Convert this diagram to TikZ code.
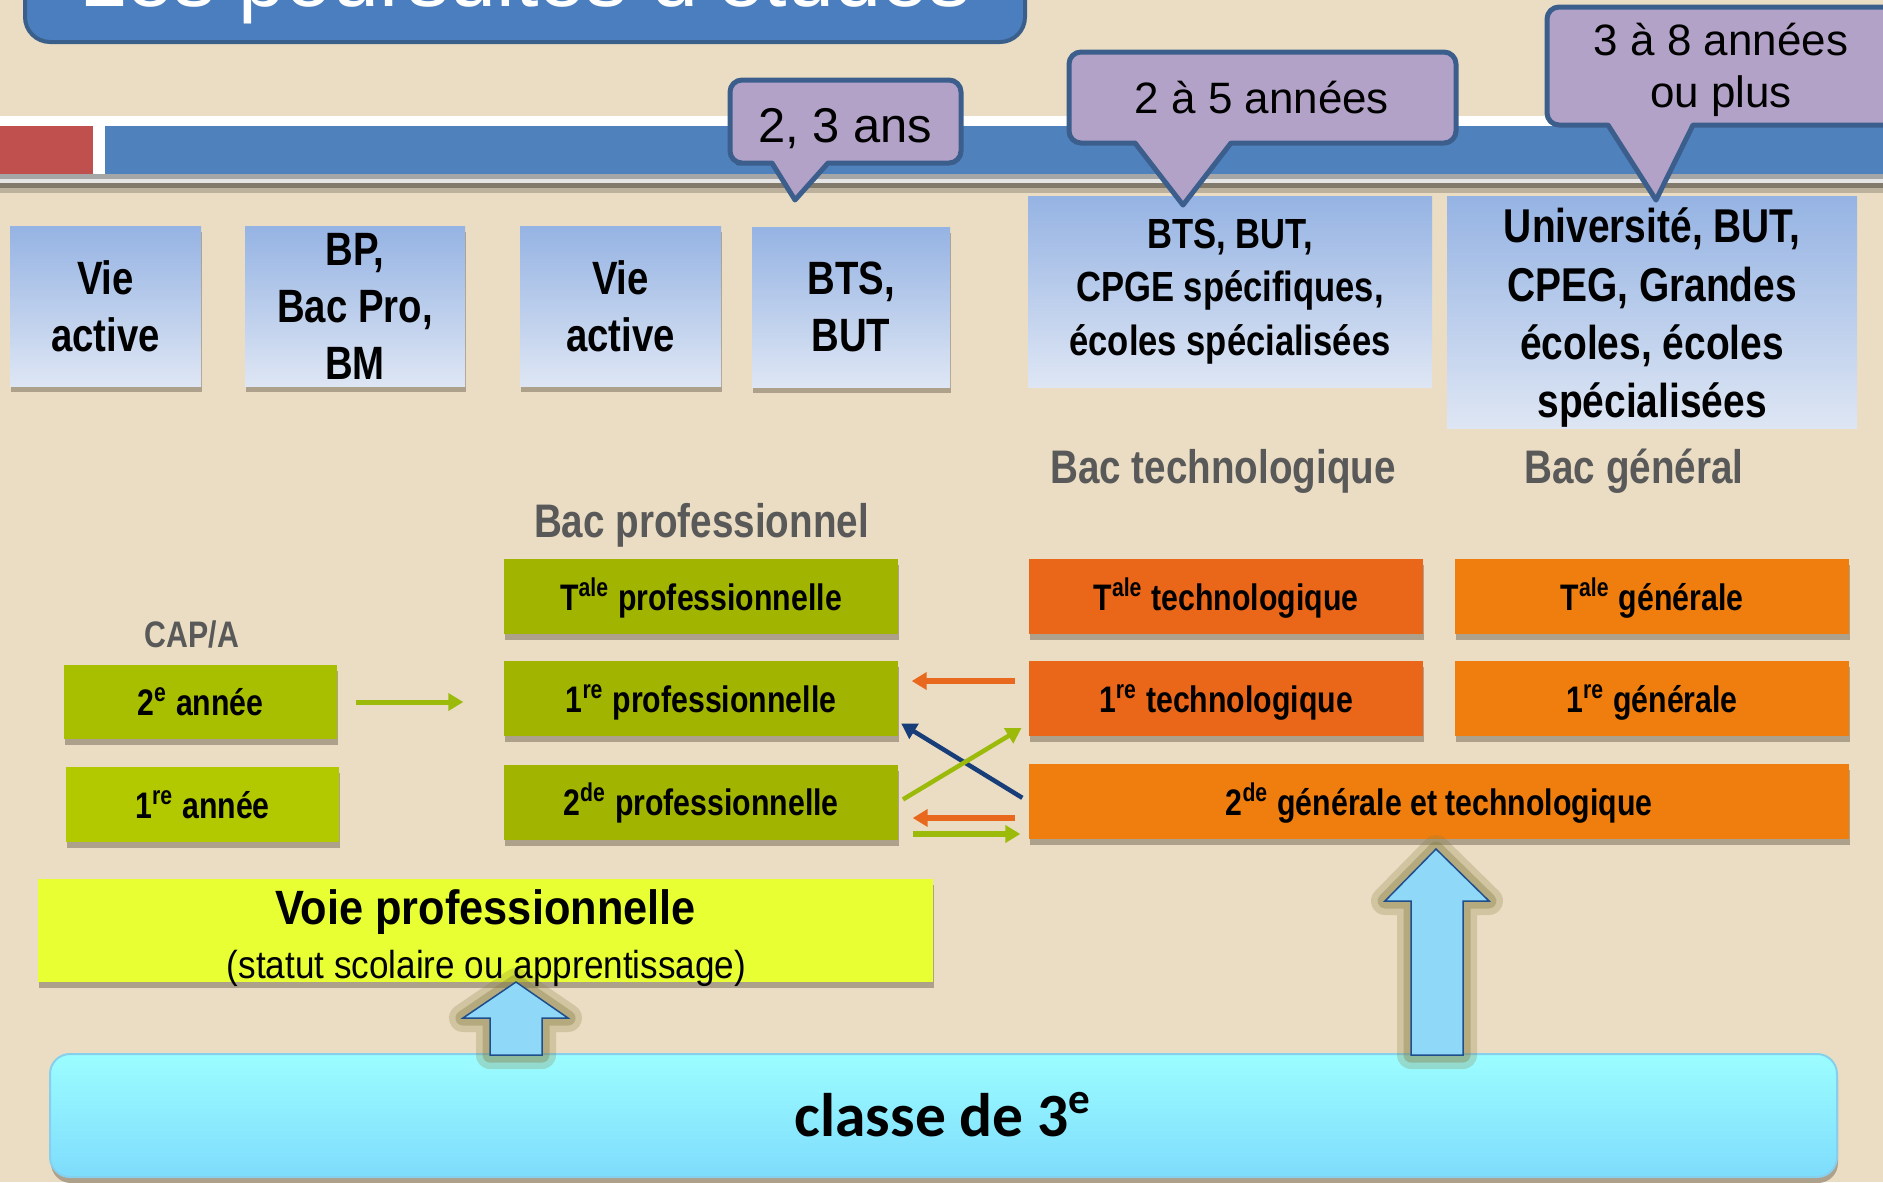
\documentclass[tikz,border=0pt]{standalone}
\usepackage{fontspec}
\setmainfont{Liberation Sans}
\newfontfamily\narrowfont{Liberation Sans}[FakeStretch=0.82]
\newfontfamily\semifont{Liberation Sans}[FakeStretch=0.9]
\newfontfamily\calfont{Carlito}
\usetikzlibrary{arrows.meta,shadows}

\definecolor{fondc}{HTML}{EADDC3}
\definecolor{titrec}{HTML}{4A7EBF}
\definecolor{titrebord}{HTML}{3A5F8B}
\definecolor{barrebleu}{HTML}{4F81BD}
\definecolor{barrerouge}{HTML}{C0504D}
\definecolor{bulle}{HTML}{B3A2C7}
\definecolor{bullebord}{HTML}{3B5E8C}
\definecolor{bleuhaut}{HTML}{95B3E3}
\definecolor{bleubas}{HTML}{DEE6F4}
\definecolor{vertpro}{HTML}{A0B400}
\definecolor{vertcap}{HTML}{A8BF00}
\definecolor{vertcapun}{HTML}{B2C900}
\definecolor{orangetech}{HTML}{EA6619}
\definecolor{orangegen}{HTML}{EF7E0E}
\definecolor{jaune}{HTML}{E8FF33}
\definecolor{cyanhaut}{HTML}{9CFDFF}
\definecolor{cyanbas}{HTML}{7EDCFC}
\definecolor{cyanbord}{HTML}{86D0EE}
\definecolor{flechebleu}{HTML}{90D8F8}
\definecolor{flechebord}{HTML}{1F4E8C}
\definecolor{halo}{HTML}{857B3E}
\definecolor{ombre}{HTML}{ADA18B}
\definecolor{grislabel}{HTML}{595959}
\definecolor{fvert}{HTML}{9BBA0A}
\definecolor{forange}{HTML}{E8681E}
\definecolor{fmarine}{HTML}{173E78}

\tikzset{
  ombrebas/.style={drop shadow={shadow xshift=0.1mm, shadow yshift=-0.6mm, fill=ombre, opacity=1}},
  sortie/.style={top color=bleuhaut, bottom color=bleubas, inner sep=0pt, align=center,
    font=\narrowfont\bfseries\fontsize{13.3}{16.2}\selectfont},
  classebox/.style={inner sep=0pt, minimum height=7.5mm, minimum width=39.4mm,
    text height=2.7mm, text depth=0mm, font=\narrowfont\bfseries\fontsize{10.5}{12}\selectfont, ombrebas},
  titrebac/.style={text=grislabel, anchor=base, font=\narrowfont\bfseries\fontsize{13.4}{16}\selectfont},
  bullebox/.style={fill=bulle, draw=bullebord, line width=0.5mm, line join=round},
  fleche/.style={line width=0.6mm, -{Triangle[length=1.5mm,width=1.7mm]}},
  grossefleche/.style={fill=flechebleu, draw=flechebord, line width=0.15mm, line join=miter,
    preaction={draw=halo, opacity=0.25, line width=2.8mm, line join=round},
    preaction={draw=halo, opacity=0.35, line width=1.5mm, line join=round}},
}

\begin{document}
\begin{tikzpicture}[x=0.1mm,y=-0.1mm]
    \useasboundingbox (0,0) rectangle (1883,1182);
    \fill[fondc] (0,0) rectangle (1883,1182); % 背景

    % 标题（上方被裁掉）
    \begin{scope}
        \clip (0,0) rectangle (1883,1182);
        \draw[fill=titrec, draw=titrebord, line width=0.4mm, rounded corners=2.5mm] (25,-90) rectangle (1025,42);
        \node[text=white, anchor=base, font=\fontsize{24}{28}\selectfont] (titre) at (525,6) {Les poursuites d'études};
    \end{scope}

    % 横条
    \fill[white] (0,116) rectangle (1883,126);
    \fill[barrerouge] (0,126) rectangle (93,174);
    \fill[white] (93,126) rectangle (105,174);
    \fill[barrebleu] (105,126) rectangle (1883,174);
    \fill[black!35] (0,174) rectangle (1883,179);
    \fill[white!90!black] (0,179) rectangle (1883,183);
    \fill[fondc!55!black] (0,183) rectangle (1883,188);
    \fill[fondc!80!black] (0,188) rectangle (1883,193);

    % 出路
    \node[sortie, ombrebas, minimum width=19.1mm, minimum height=16mm] (vieA) at (105.5,306) {Vie\\active};
    \node[sortie, ombrebas, minimum width=22mm, minimum height=16mm] (bpbm) at (355,306) {BP,\\Bac Pro,\\BM};
    \node[sortie, ombrebas, minimum width=20.1mm, minimum height=16mm] (vieB) at (620.5,306) {Vie\\active};
    \node[sortie, ombrebas, minimum width=19.8mm, minimum height=16mm] (btsA) at (851,307) {BTS,\\BUT};
    \node[sortie, minimum width=40.4mm, minimum height=19.1mm,
        font=\narrowfont\bfseries\fontsize{12}{15.2}\selectfont] (btsB) at (1230,291.5) {BTS, BUT,\\CPGE spécifiques,\\écoles spécialisées};
    \node[sortie, minimum width=41mm, minimum height=23.2mm,
        font=\narrowfont\bfseries\fontsize{13.5}{16.6}\selectfont] (univ) at (1652,312) {};
    \node[align=center, font=\narrowfont\bfseries\fontsize{13.5}{16.6}\selectfont] (univTxt) at (1652,318) {Université, BUT,\\CPEG, Grandes\\écoles, écoles\\spécialisées};

    % 气泡
    \draw[bullebox, rounded corners=1.2mm] (845,80) -- (961,80) -- (961,163) -- (900,163) [sharp corners] -- (828,163) -- (795,200) -- (772,163) [rounded corners=1.2mm] -- (750,163) -- (730,163) -- (730,80) -- cycle;
    \node[anchor=base, font=\fontsize{13.9}{16}\selectfont] (dureeA) at (845,142) {2, 3 ans};
    \draw[bullebox, rounded corners=1.2mm] (1262,52) -- (1456,52) -- (1456,143) -- (1270,143) [sharp corners] -- (1231,143) -- (1183,205) -- (1135,143) [rounded corners=1.2mm] -- (1100,143) -- (1069,143) -- (1069,52) -- cycle;
    \node[anchor=base, font=\fontsize{12.5}{14}\selectfont] (dureeB) at (1262,113) {2 à 5 années};
    \draw[bullebox, rounded corners=1.2mm] (1720,7) -- (1905,7) -- (1905,125) -- (1730,125) [sharp corners] -- (1693,125) -- (1656,200) -- (1608,125) [rounded corners=1.2mm] -- (1580,125) -- (1547,125) -- (1547,7) -- cycle;
    \node[align=center, font=\fontsize{12.5}{15}\selectfont] (dureeC) at (1721,70) {3 à 8 années\\ou plus};

    % 标签
    \node[titrebac] (bacTech) at (1223,483) {Bac technologique};
    \node[titrebac] (bacGen) at (1634,483) {Bac général};
    \node[titrebac] (bacPro) at (701.5,537) {Bac professionnel};
    \node[titrebac, font=\narrowfont\bfseries\fontsize{10.5}{12}\selectfont] (cap) at (192,647) {CAP/A};

    % 职业路线
    \node[classebox, fill=vertpro] (tlePro) at (701,596.5) {T\textsuperscript{ale} professionnelle};
    \node[classebox, fill=vertpro] (prePro) at (701,698.5) {1\textsuperscript{re} professionnelle};
    \node[classebox, fill=vertpro] (secPro) at (701,802) {2\textsuperscript{de} professionnelle};
    \node[classebox, fill=vertcap, minimum width=27.3mm, minimum height=7.4mm] (deuxAnn) at (200.5,702) {2\textsuperscript{e} année};
    \node[classebox, fill=vertcapun, minimum width=27.3mm] (unAnn) at (202.5,804.5) {1\textsuperscript{re} année};

    % 普通与技术路线
    \node[classebox, fill=orangetech] (tleTech) at (1226,596.5) {T\textsuperscript{ale} technologique};
    \node[classebox, fill=orangegen] (tleGen) at (1652,596.5) {T\textsuperscript{ale} générale};
    \node[classebox, fill=orangetech] (preTech) at (1226,698.5) {1\textsuperscript{re} technologique};
    \node[classebox, fill=orangegen] (preGen) at (1652,698.5) {1\textsuperscript{re} générale};
    \node[classebox, fill=orangegen, minimum width=82mm] (secGT) at (1439,801.5) {2\textsuperscript{de} générale et technologique};

    % 箭头
    \draw[fleche, fvert, line width=0.5mm, shorten <=1.8mm, shorten >=4mm] (deuxAnn.east) -- (deuxAnn.east -| prePro.west);
    \draw[fleche, forange, shorten <=1.3mm, shorten >=1.3mm] ([yshift=1.75mm]preTech.west) -- ([yshift=1.75mm]prePro.east);
    \draw[fleche, fmarine, line width=0.45mm, shorten <=0.7mm, shorten >=0.3mm] (secGT.west) -- ([yshift=-2.35mm]prePro.east);
    \draw[fleche, fvert, line width=0.45mm, shorten <=0.5mm, shorten >=0.8mm] (secPro.east) -- ([yshift=-2.55mm]preTech.west);
    \draw[fleche, forange, shorten <=1.3mm, shorten >=1.4mm] ([yshift=-1.65mm]secGT.west) -- ([yshift=-1.65mm]secGT.west -| secPro.east);
    \draw[fleche, fvert, shorten <=1.4mm, shorten >=0.8mm] ([yshift=-3.2mm]secPro.east) -- ([yshift=-3.2mm]secPro.east -| secGT.west);

    % 职业方向
    \node[fill=jaune, ombrebas, minimum width=89.5mm, minimum height=10.3mm, inner sep=0pt] (voie) at (485.5,930.5) {};

    % 初三
    \node[top color=cyanhaut, bottom color=cyanbas, draw=cyanbord, line width=0.2mm, rounded corners=2mm,
        minimum width=178.7mm, minimum height=12.3mm, inner sep=0pt, text height=4.1mm, text depth=0mm,
        font=\calfont\bfseries\fontsize{17.5}{20}\selectfont, ombrebas] (classe) at (943.5,1115.5) {classe de 3\textsuperscript{e}};

    % 向上箭头
    \draw[grossefleche] (490,1055) -- (490,1018) -- (463,1018) -- (516,982) -- (568,1018) -- (542,1018) -- (542,1055) -- cycle;
    \draw[grossefleche] (1411,1055) -- (1411,901) -- (1385,901) -- (1436,849) -- (1489,901) -- (1463,901) -- (1463,1055) -- cycle;

    \node[anchor=base, font=\semifont\bfseries\fontsize{13.7}{16}\selectfont] (voieTitre) at (485.5,924) {Voie professionnelle};
    \node[anchor=base, font=\semifont\fontsize{11.1}{13}\selectfont] (voieStatut) at (486.5,978) {(statut scolaire ou apprentissage)};
\end{tikzpicture}
\end{document}
